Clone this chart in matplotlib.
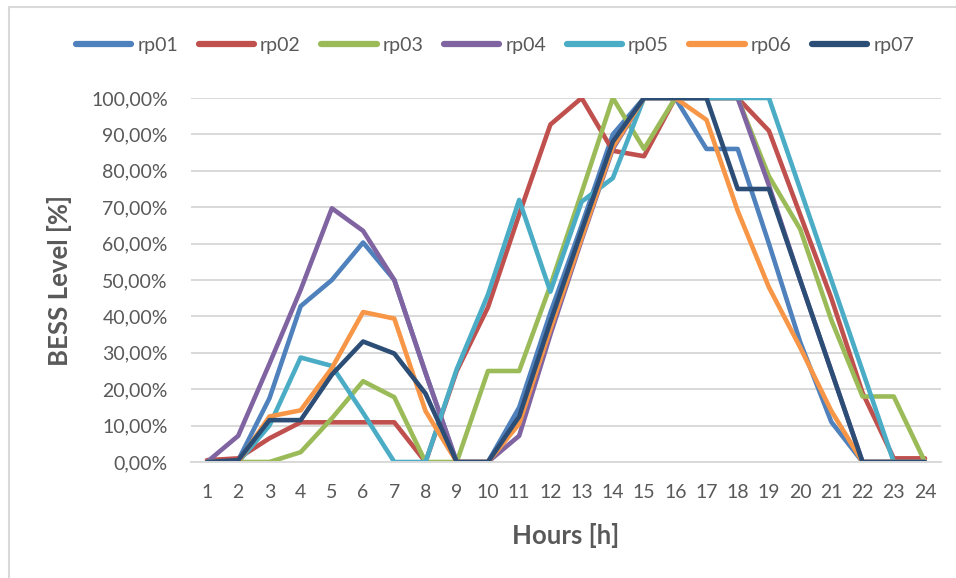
import matplotlib
matplotlib.use("Agg")
import matplotlib.pyplot as plt
from matplotlib.patches import Rectangle
from matplotlib.ticker import FuncFormatter, MultipleLocator

plt.rcParams['font.family'] = ['Lato', 'DejaVu Sans']

hours = list(range(1, 25))
hour_labels = [str(h) for h in hours]

# Battery state of charge per representative period (percent)
rp01 = [0, 0.5, 17.5, 42.8, 50, 60.3, 50, 24.5, 0, 0, 15, 41, 65, 90, 100, 100, 86, 86, 60, 33, 11, 0, 0, 0]
rp02 = [0.5, 1, 6.5, 10.9, 10.9, 10.9, 10.9, 0, 25, 42.5, 68, 92.7, 100, 85.5, 84, 100, 100, 100, 91, 68, 45, 19, 1, 1]
rp03 = [0, 0, 0, 2.7, 12, 22.2, 17.8, 0, 0, 25, 25, 48.5, 74, 100, 86, 100, 100, 100, 78.5, 64, 39, 18, 18, 0]
rp04 = [0, 7.2, 27, 47.3, 69.7, 63.5, 50, 24.5, 0, 0, 7.2, 35, 61, 86, 100, 100, 100, 100, 76, 50, 25, 0, 0, 0]
rp05 = [0, 0, 10, 28.7, 26.4, 13.5, 0, 0, 25.5, 46, 72, 46.8, 71.5, 78, 100, 100, 100, 100, 100, 75, 50, 25, 0, 0]
rp06 = [0, 0, 12.5, 14.2, 25.8, 41.2, 39.4, 14, 0, 0, 10.5, 36.5, 61.5, 86.5, 100, 100, 94, 69, 48, 31.5, 14, 0, 0, 0]
rp07 = [0, 0.5, 11.5, 11.5, 24, 33.1, 29.8, 18.8, 0, 0, 12.5, 38.5, 63.5, 88, 100, 100, 100, 75, 75, 50, 25, 0, 0, 0]

series_names = ['rp01', 'rp02', 'rp03', 'rp04', 'rp05', 'rp06', 'rp07']
series_values = [rp01, rp02, rp03, rp04, rp05, rp06, rp07]
colors = ['#4F81BD', '#C0504D', '#9BBB59', '#8064A2', '#4BACC6', '#F79646', '#2C4D75']

text_color = '#595959'
grid_color = '#D9D9D9'

W, H = 956, 578
fig = plt.figure(figsize=(W / 100, H / 100), dpi=100)
fig.patch.set_facecolor('white')

left, right, top, bottom = 191.4, 940.6, 98, 462
ax = fig.add_axes([left / W, 1 - bottom / H, (right - left) / W, (bottom - top) / H])

for name, vals, col in zip(series_names, series_values, colors):
    ax.plot(hours, [v / 100 for v in vals], color=col, lw=3.3, label=name,
            solid_joinstyle='round', solid_capstyle='round')

ax.set_xlim(0.5, 24.5)
ax.set_ylim(0, 1)
ax.yaxis.set_major_locator(MultipleLocator(0.1))
ax.yaxis.set_major_formatter(FuncFormatter(lambda v, p: f"{v * 100:.2f}%".replace('.', ',')))
ax.set_xticks(hours)
ax.set_xticklabels(hour_labels)

ax.grid(axis='y', color=grid_color, lw=1.4)
ax.set_axisbelow(True)
for s in ['top', 'right', 'left']:
    ax.spines[s].set_visible(False)
ax.spines['bottom'].set_color(grid_color)
ax.spines['bottom'].set_linewidth(1.4)
ax.tick_params(axis='both', length=0, colors=text_color, labelsize=14)
ax.tick_params(axis='x', pad=16)
ax.tick_params(axis='y', pad=17)

ax.set_xlabel('Hours [h]', fontsize=18.5, fontweight='bold', color=text_color)
ax.xaxis.set_label_coords(0.5, (bottom - 535) / (bottom - top))
ax.xaxis.label.set_verticalalignment('center')
ax.set_ylabel('BESS Level [%]', fontsize=18.5, fontweight='bold', color=text_color)
ax.yaxis.set_label_coords((60 - left) / (right - left), 0.5)
ax.yaxis.label.set_verticalalignment('center')

leg = fig.legend(loc='center', bbox_to_anchor=(495 / W, 1 - 45 / H), ncol=7, frameon=False,
                 fontsize=14, handlelength=2.85, handletextpad=0.3, columnspacing=1.06,
                 labelcolor=text_color)
for line in leg.get_lines():
    line.set_linewidth(4.5)
    line.set_solid_capstyle('round')

# chart frame
fig.patches.append(Rectangle((8.5 / W, -0.1), 1.2, (H - 7.5) / H + 0.1, transform=fig.transFigure,
                             fill=False, edgecolor=grid_color, lw=1.5))

fig.savefig('out.png', dpi=100)
